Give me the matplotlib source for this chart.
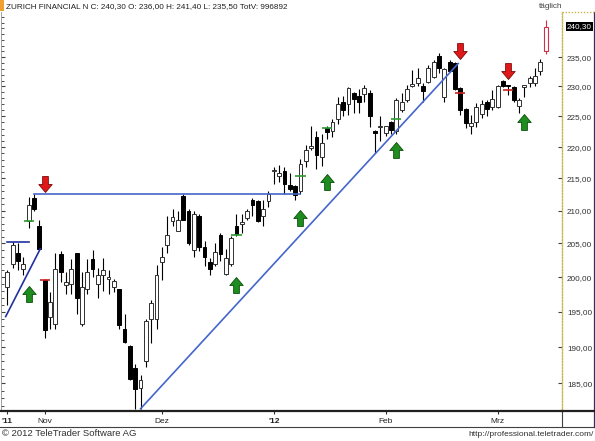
import numpy as np
import matplotlib
matplotlib.use('Agg')
from matplotlib import pyplot as plt
from matplotlib.path import Path
from matplotlib.lines import Line2D
from matplotlib.patches import Rectangle
from matplotlib.ticker import FixedLocator, MultipleLocator, NullFormatter, FuncFormatter

plt.rcParams['font.family'] = ['Liberation Sans', 'DejaVu Sans']

# daily candles, 21.10.2011 - 14.03.2012
opens = [198.6, 201.9, 203.5, 201.2, 208.4, 211.9, 207.6, 199.6, 194.3, 193.3,
         203.4, 198.9, 199.0, 203.5, 193.3, 198.3, 202.6, 199.0, 200.3, 199.7,
         198.5, 198.2, 192.5, 190.2, 187.1, 184.4, 188.1, 193.9, 193.9, 202.2,
         204.8, 208.4, 206.8, 212.2, 210.0, 204.0, 209.1, 204.4, 202.2, 201.9,
         206.3, 200.4, 201.9, 207.6, 208.0, 208.8, 211.7, 211.4, 209.2, 211.4,
         216.1, 215.4, 216.2, 213.9, 213.8, 213.0, 217.8, 219.9, 221.6, 218.4,
         223.1, 222.6, 224.5, 227.4, 227.0, 228.9, 228.4, 228.7, 228.9, 222.4,
         223.2, 222.3, 224.0, 222.6, 226.1, 227.8, 230.1, 230.6, 230.1, 230.8,
         231.6, 235.2, 228.2, 234.1, 234.0, 229.7, 226.3, 223.4, 224.0, 225.4,
         227.4, 226.6, 226.6, 230.9, 230.1, 229.9, 226.7, 229.9, 230.6, 230.6,
         232.6, 236.0]
highs = [201.1, 205.2, 205.1, 202.9, 212.1, 212.6, 208.5, 199.7, 197.8, 203.5,
         203.8, 200.7, 202.6, 203.6, 200.7, 202.6, 204.0, 201.4, 202.8, 201.0,
         199.7, 198.3, 194.6, 190.3, 187.7, 186.1, 194.0, 196.6, 201.8, 204.4,
         209.1, 210.3, 209.9, 212.5, 210.3, 209.9, 209.5, 205.4, 202.8, 205.1,
         206.6, 204.1, 206.1, 209.4, 209.4, 210.3, 211.9, 211.6, 211.6, 213.1,
         216.8, 217.1, 216.8, 215.8, 213.9, 218.1, 220.4, 223.4, 222.6, 222.1,
         223.4, 224.6, 228.3, 228.4, 229.9, 229.1, 229.6, 230.2, 229.4, 222.7,
         225.0, 223.5, 224.2, 228.1, 228.9, 230.2, 232.8, 233.1, 230.6, 233.7,
         234.5, 235.7, 233.1, 234.5, 234.1, 229.9, 226.4, 225.3, 227.3, 227.8,
         227.8, 229.4, 230.2, 231.1, 230.2, 230.1, 228.1, 230.2, 231.8, 233.1,
         234.7, 241.4]
lows = [196.0, 201.4, 201.1, 200.3, 207.3, 210.0, 204.0, 191.3, 192.5, 192.6,
        199.3, 197.6, 197.6, 194.7, 192.9, 197.5, 200.0, 196.9, 198.0, 197.6,
        197.8, 192.5, 190.6, 185.4, 181.6, 181.6, 187.2, 190.6, 192.6, 199.6,
        203.5, 207.6, 206.8, 208.5, 204.7, 202.9, 203.8, 201.7, 200.3, 201.7,
        202.4, 200.3, 201.7, 206.1, 206.6, 208.5, 209.2, 208.3, 207.7, 210.6,
        214.2, 214.5, 212.6, 213.1, 211.6, 212.6, 216.8, 219.6, 216.5, 216.9,
        221.3, 221.6, 223.7, 225.0, 225.3, 225.5, 225.5, 227.4, 223.2, 219.1,
        221.0, 221.8, 222.1, 222.1, 225.8, 227.4, 229.9, 230.1, 227.4, 230.6,
        231.4, 232.3, 227.4, 232.4, 229.4, 225.3, 223.1, 222.2, 223.2, 224.8,
        225.0, 226.1, 226.4, 229.9, 228.6, 227.4, 225.5, 228.2, 229.9, 230.1,
        232.0, 235.5]
closes = [200.7, 204.7, 202.4, 202.0, 210.8, 210.3, 204.1, 192.4, 196.4, 201.2,
          200.7, 199.3, 201.2, 196.9, 198.6, 200.7, 201.2, 200.3, 201.1, 200.0,
          199.4, 193.1, 190.7, 185.6, 184.3, 185.4, 193.6, 196.2, 200.3, 202.9,
          206.3, 209.0, 208.6, 208.6, 205.1, 209.5, 204.4, 202.9, 201.2, 203.7,
          203.4, 202.8, 205.8, 206.4, 208.1, 209.9, 210.8, 208.4, 210.3, 212.6,
          216.2, 215.9, 214.2, 213.4, 212.4, 217.3, 219.6, 220.1, 218.8, 220.7,
          222.4, 224.0, 227.0, 226.1, 229.7, 227.9, 227.4, 229.7, 225.0, 222.3,
          223.4, 223.4, 222.8, 227.8, 227.4, 229.6, 230.2, 231.4, 229.3, 233.1,
          234.1, 233.1, 232.9, 232.6, 229.6, 226.1, 223.9, 223.9, 226.6, 227.0,
          226.3, 227.9, 230.1, 230.1, 230.0, 227.8, 227.8, 230.1, 231.4, 231.8,
          234.1, 240.3]

month_pos = [0, 7, 29, 50, 71, 92]
month_labels = ["'11", 'Nov', 'Dez', "'12", 'Feb', 'Mrz']
price_ticks = [185, 190, 195, 200, 205, 210, 215, 220, 225, 230, 235]

buy_idx = [4, 43, 55, 60, 73, 97]
buy_arrow_y = [197.5, 198.9, 208.8, 214.4, 219.6, 224.1]
buy_mark_idx = [4, 43, 55, 60, 73]
buy_mark_y = [208.4, 206.3, 215.4, 223.1, 224.5]
sell_idx = [7, 85, 94]
sell_arrow_y = [214.1, 236.1, 232.7]
sell_mark_y = [199.6, 228.9, 229.4]

support_x = [-0.3, 6.2]
support_y = [194.3, 204.2]
top_short_x = [-0.1, 4.0]
top_short_y = [205.2, 205.2]
resist_x = [5, 55]
resist_y = [212.5, 212.5]
trend_x = [25, 84.6]
trend_y = [181.6, 233.9]

W, H = 595, 441
fig = plt.figure(figsize=(W / 100, H / 100), dpi=100)
ax = fig.add_axes([1 / W, (H - 411) / H, 561 / W, 399 / H])

o = np.array(opens)
h = np.array(highs)
l = np.array(lows)
c = np.array(closes)
x = np.arange(len(o))
bot = np.minimum(o, c)
top = np.maximum(o, c)
top = np.maximum(top, bot * 1.0012)
up = c >= o
last = len(o) - 1
up[last] = False
down = ~up
down[last] = False

ax.vlines(x[:last], l[:last], h[:last], color='black', lw=0.8, zorder=2)
ax.bar(x[up], (top - bot)[up], bottom=bot[up], width=0.72, color='white',
       edgecolor='#303030', lw=0.7, zorder=3)
ax.bar(x[down], (top - bot)[down], bottom=bot[down], width=0.72, color='black',
       edgecolor='black', lw=0.7, zorder=3)
ax.vlines(x[last], l[last], h[last], color='#D03048', lw=0.8, zorder=2)
ax.bar(x[last], top[last] - bot[last], bottom=bot[last], width=0.72, color='white',
       edgecolor='#D03048', lw=0.8, zorder=3)

ax.plot(support_x, support_y, color='#2030A0', lw=1.2, zorder=4)
ax.plot(top_short_x, top_short_y, color='#2030A0', lw=1.2, zorder=4)
ax.plot(resist_x, resist_y, color='#4466CC', lw=1.2, zorder=4)
ax.plot(trend_x, trend_y, color='#4466CC', lw=1.2, zorder=4)

bi = np.array(buy_mark_idx)
ax.hlines(buy_mark_y, bi - 0.95, bi + 0.95, color='#2E9A2E', lw=1.2, zorder=5)
si = np.array(sell_idx)
ax.hlines(sell_mark_y, si - 0.95, si + 0.95, color='#D02020', lw=1.2, zorder=5)

up_verts = [(-0.18, -0.5), (0.18, -0.5), (0.18, 0.0), (0.42, 0.0), (0.0, 0.5),
            (-0.42, 0.0), (-0.18, 0.0), (-0.18, -0.5)]
codes = [Path.MOVETO] + [Path.LINETO] * 6 + [Path.CLOSEPOLY]
up_arrow = Path(up_verts, codes)
down_arrow = Path([(vx, -vy) for vx, vy in up_verts], codes)
ax.plot(buy_idx, buy_arrow_y, ls='none', marker=up_arrow, ms=11.5,
        mfc='#1E8C1E', mec='#0B4F0B', mew=0.6, zorder=6)
ax.plot(sell_idx, sell_arrow_y, ls='none', marker=down_arrow, ms=11.5,
        mfc='#E01818', mec='#7A0A0A', mew=0.6, zorder=6)

ax.set_yscale('log')
ax.set_ylim(181.3, 242.9)
ax.set_xlim(-1.18, 104.07)

ax.yaxis.set_major_locator(FixedLocator(price_ticks))
ax.yaxis.set_major_formatter(FuncFormatter(lambda v, p: f'{v:.2f}'.replace('.', ',')))
ax.yaxis.set_minor_locator(MultipleLocator(1))
ax.yaxis.set_minor_formatter(NullFormatter())
ax.tick_params(axis='y', which='major', left=True, right=True, labelleft=False,
               labelright=True, direction='in', length=3, width=0.8,
               color='#404040', pad=3.6, labelsize=5.9, labelcolor='#303030')
ax.tick_params(axis='y', which='minor', left=True, right=False, direction='in',
               length=2.5, width=0.6, color='#303030')

ax.set_xticks(month_pos, month_labels)
ax.tick_params(axis='x', direction='out', length=2, width=0.8, color='#303030',
               pad=3.0, labelsize=6.0, labelcolor='#202020')
for t in ax.get_xticklabels():
    if t.get_text().startswith("'"):
        t.set_fontweight('bold')

ax.spines['top'].set_visible(False)
ax.spines['left'].set_color('#909090')
ax.spines['left'].set_linewidth(0.6)
ax.spines['right'].set_color('#C8B450')
ax.spines['right'].set_linestyle((0, (1, 1.2)))
ax.spines['right'].set_linewidth(1.0)
ax.spines['bottom'].set_color('#202020')
ax.spines['bottom'].set_linewidth(1.6)

ax.annotate('240,30', xy=(1, closes[-1]), xycoords=('axes fraction', 'data'),
            xytext=(3.6, 0), textcoords='offset points', va='center', ha='left',
            color='white', fontsize=5.9,
            bbox=dict(boxstyle='square,pad=0.12', fc='black', ec='none'))

fig.add_artist(Line2D([0, 1], [1 - 427 / H] * 2, transform=fig.transFigure,
                      color='#404040', lw=0.8))
fig.add_artist(Line2D([562 / W, 562 / W], [1 - 427 / H, 1 - 411 / H],
                      transform=fig.transFigure, color='#404040', lw=0.8))
fig.add_artist(Line2D([594 / W, 594 / W], [1 - 427 / H, 1 - 12 / H],
                      transform=fig.transFigure, color='#303060', lw=0.9))
fig.add_artist(Line2D([562 / W, 594 / W], [1 - 411 / H] * 2,
                      transform=fig.transFigure, color='#202020', lw=1.6))
fig.add_artist(Line2D([562 / W, 594 / W], [1 - 12 / H] * 2,
                      transform=fig.transFigure, color='#C8B450', lw=1.0,
                      ls=(0, (1, 1.2))))
fig.add_artist(Rectangle((0, 1 - 11 / H), 4 / W, 11 / H, transform=fig.transFigure,
                         fc='#F0A030', ec='none'))

fig.text(6 / W, 1 - 6.5 / H,
         'ZURICH FINANCIAL N C: 240,30 O: 236,00 H: 241,40 L: 235,50 TotV: 996892',
         va='center', ha='left', fontsize=5.9, color='#202020')
fig.text(562 / W, 1 - 6 / H, 'täglich', va='center', ha='right', fontsize=5.9,
         color='#404040')
fig.text(2 / W, 1 - 434 / H, '\u00a9 2012 TeleTrader Software AG', va='center',
         ha='left', fontsize=6.8, color='#303030')
fig.text(594 / W, 1 - 435 / H, 'http://professional.teletrader.com/', va='center',
         ha='right', fontsize=6.0, color='#303030')

fig.savefig('out.png', dpi=100)
